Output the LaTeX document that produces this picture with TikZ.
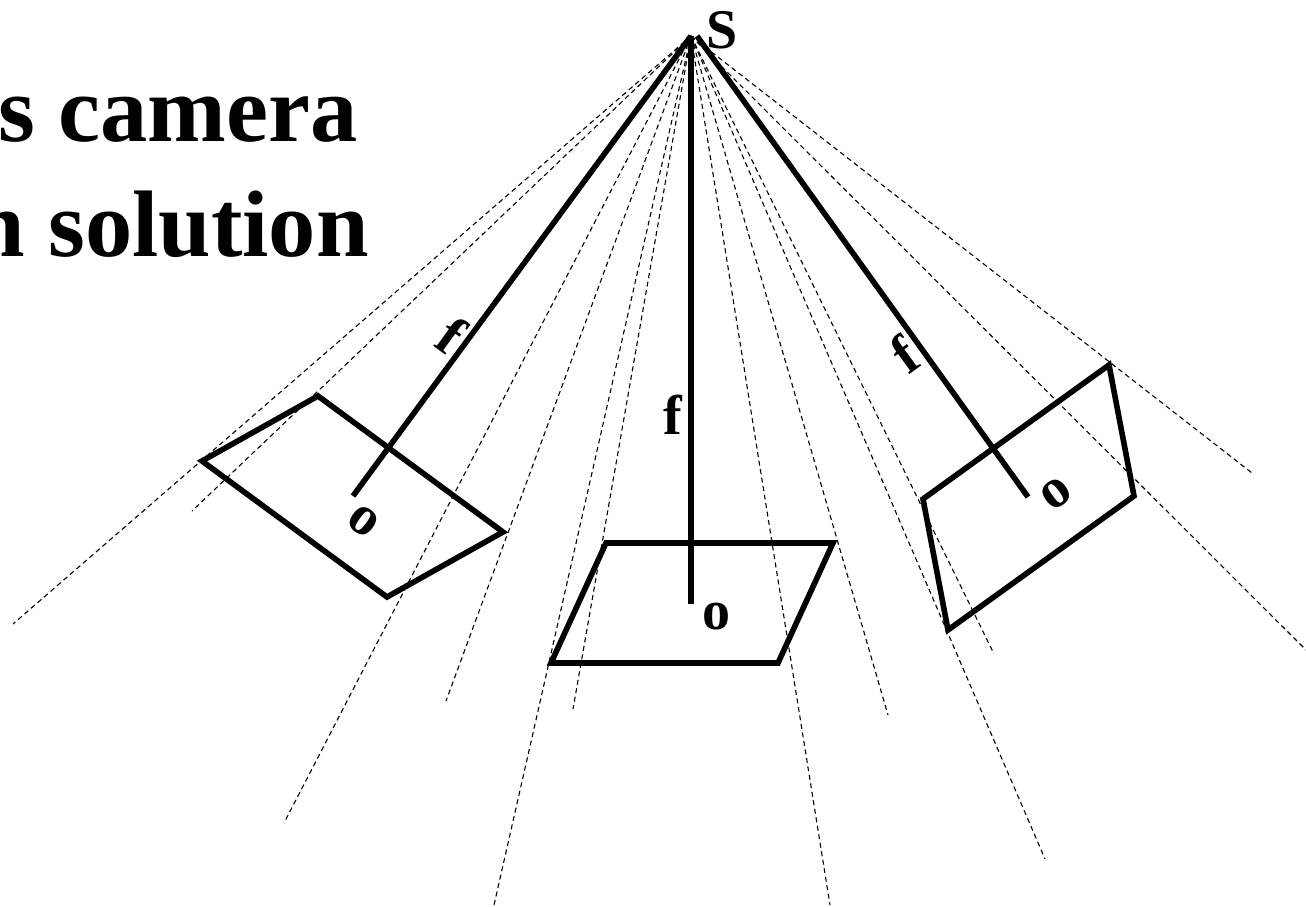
\documentclass[tikz,border=0pt]{standalone}
\usepackage{fontspec}
\setmainfont{Liberation Serif}
\tikzset{
  x=1pt,y=-1pt,
  ray/.style={line width=1.1pt,dash pattern=on 5pt off 3.6pt},
  beam/.style={line width=5.6pt},
  frame/.style={line width=5.6pt,line join=miter},
  title/.style={inner sep=0pt,anchor=base east,font=\fontsize{94.5}{94.5}\selectfont\bfseries},
  letter/.style={inner sep=0pt,font=\fontsize{56}{56}\selectfont\bfseries}
}
\begin{document}
\begin{tikzpicture}
\useasboundingbox (0,0) rectangle (1306,907);
\clip (0,0) rectangle (1306,907);
\coordinate (apex) at (691,36);
\coordinate (apexR) at (697,36);
% rays
\foreach \n/\x/\y in {a/13/624,b/192/511,c/284/823,d/446/701,e/573/709,g/494/905,h/830/905,i/888/715,j/994/654,k/1045/859,l/1252/473,m/1306/650}{
  \coordinate (r\n) at (\x,\y);
  \draw[ray] (apex) -- (r\n);
}
% image planes
\coordinate (L1) at (202,461); \coordinate (L2) at (318,396); \coordinate (L3) at (503,532); \coordinate (L4) at (387,597);
\draw[frame] (L1) -- (L2) -- (L3) -- (L4) -- cycle;
\coordinate (C1) at (606,543); \coordinate (C2) at (833,543); \coordinate (C3) at (778,663); \coordinate (C4) at (551,663);
\draw[frame] (C1) -- (C2) -- (C3) -- (C4) -- cycle;
\coordinate (R1) at (1109,365); \coordinate (R2) at (1134,496); \coordinate (R3) at (948,630); \coordinate (R4) at (923,499);
\draw[frame] (R1) -- (R2) -- (R3) -- (R4) -- cycle;
% focal lines
\coordinate (oL) at (353,496); \coordinate (oC) at (691,604); \coordinate (oR) at (1028,497);
\draw[beam] (apex) -- (oL);
\draw[beam] (apex) -- (oC);
\draw[beam] (apexR) -- (oR);
% text
\node[title] (t1) at (358,141) {s camera};
\node[title] (t2) at (369,256) {n solution};
\node[letter] (S) at (722,30) {S};
\node[letter] (f1) at (452,335) [rotate=-36] {f};
\node[letter] (f2) at (673,415) {f};
\node[letter] (f3) at (904,354) [rotate=36] {f};
\node[letter] (o1) at (363,521) [rotate=-36] {o};
\node[letter] (o2) at (716,617) {o};
\node[letter] (o3) at (1056,494) [rotate=36] {o};
\end{tikzpicture}
\end{document}
